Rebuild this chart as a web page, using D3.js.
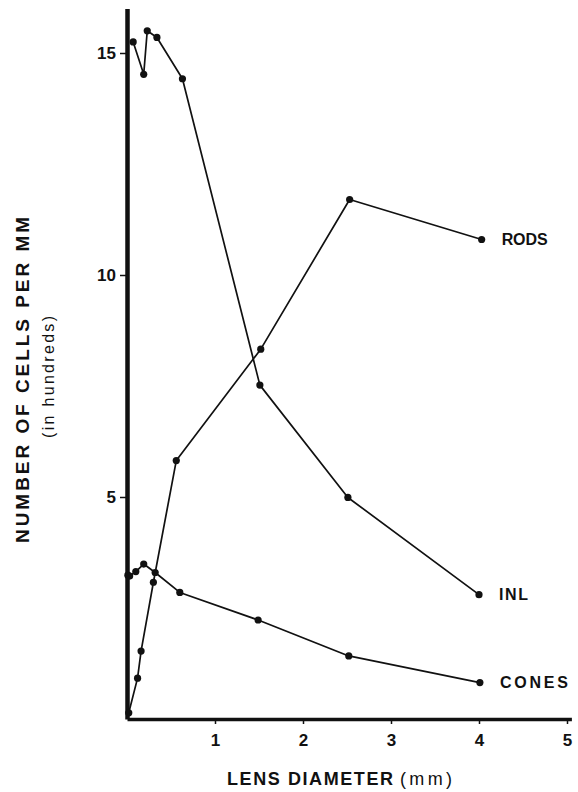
<!DOCTYPE html>
<html>
<head>
<meta charset="utf-8">
<script src="https://cdn.jsdelivr.net/npm/d3@7"></script>
<style>
  html, body { margin: 0; padding: 0; background: #fff; overflow: hidden; }
  svg { display: block; }
  text { font-family: "Liberation Sans", Arial, sans-serif; fill: #111; }
</style>
</head>
<body>
<svg id="svg"></svg>
<script>
/*global d3*/

const width = 578;
const height = 792;

// values (lens diameter in mm, cells per mm in hundreds)
const inlX = [0.07, 0.19, 0.23, 0.34, 0.63, 1.51, 2.51, 4.00];
const inlY = [15.25, 14.52, 15.50, 15.35, 14.42, 7.52, 4.99, 2.80];

const rodsX = [0.02, 0.12, 0.16, 0.30, 0.56, 1.52, 2.53, 4.03];
const rodsY = [0.14, 0.92, 1.53, 3.08, 5.82, 8.33, 11.70, 10.80];

const conesX = [0.01, 0.03, 0.10, 0.19, 0.32, 0.60, 1.49, 2.52, 4.01];
const conesY = [3.24, 3.22, 3.32, 3.49, 3.30, 2.85, 2.23, 1.42, 0.82];

const xTicks = [1, 2, 3, 4, 5];
const yTicks = [5, 10, 15];

const seriesNames = ["RODS", "INL", "CONES"];

const svg = d3.select("#svg").attr("width", width).attr("height", height);

const margin = {top: 10, left: 127, right: 6, bottom: 73};
const innerHeight = height - margin.top - margin.bottom;

const xScale = d3.scaleLinear()
    .domain([0, 5.05])
    .range([0, 5.05 * 88]);

const yScale = d3.scaleLinear()
    .domain([0, 16])
    .range([innerHeight, innerHeight - 16 * 44.4]);

const g = svg.append("g")
    .attr("transform", `translate(${margin.left},${margin.top})`);

// x axis
const xAxis = d3.axisBottom(xScale)
    .tickValues(xTicks)
    .tickSize(5)
    .tickSizeOuter(0)
    .tickFormat(d3.format("d"));

const xAxisG = g.append("g")
    .attr("transform", `translate(0,${innerHeight})`)
    .call(xAxis);

xAxisG.select(".domain").attr("stroke", "#111").attr("stroke-width", 3.5);
xAxisG.selectAll(".tick line").attr("stroke", "#111").attr("stroke-width", 1.5);
xAxisG.selectAll(".tick text")
    .attr("y", 15)
    .attr("dy", "0.71em")
    .style("font-size", "17px")
    .style("font-weight", "bold");

// y axis
const yAxis = d3.axisLeft(yScale)
    .tickValues(yTicks)
    .tickSize(7)
    .tickSizeOuter(0)
    .tickFormat(d3.format("d"));

const yAxisG = g.append("g").call(yAxis);

yAxisG.select(".domain").attr("stroke", "#111").attr("stroke-width", 4.5);
yAxisG.selectAll(".tick line").attr("stroke", "#111").attr("stroke-width", 1.5);
yAxisG.selectAll(".tick text")
    .attr("x", -11)
    .style("font-size", "17px")
    .style("font-weight", "bold");

// axis titles (spread out with textLength, like the wide lettering of the original)
svg.append("text")
    .attr("x", 227)
    .attr("y", 785)
    .attr("textLength", 166)
    .attr("lengthAdjust", "spacing")
    .style("font-size", "18px")
    .style("font-weight", "bold")
    .text("LENS DIAMETER");

svg.append("text")
    .attr("x", 400)
    .attr("y", 785)
    .attr("textLength", 52)
    .attr("lengthAdjust", "spacing")
    .style("font-size", "18px")
    .text("(mm)");

svg.append("text")
    .attr("transform", "translate(29,380) rotate(-90)")
    .attr("text-anchor", "middle")
    .attr("textLength", 326)
    .attr("lengthAdjust", "spacing")
    .style("font-size", "19px")
    .style("font-weight", "bold")
    .text("NUMBER OF CELLS PER MM");

svg.append("text")
    .attr("transform", "translate(54,377) rotate(-90)")
    .attr("text-anchor", "middle")
    .attr("textLength", 122)
    .attr("lengthAdjust", "spacing")
    .style("font-size", "16px")
    .text("(in hundreds)");

// series
const series = [
    {name: seriesNames[0], xs: rodsX, ys: rodsY, w: 46},
    {name: seriesNames[1], xs: inlX, ys: inlY, w: 29},
    {name: seriesNames[2], xs: conesX, ys: conesY, w: 68}
];

const line = d3.line()
    .x(d => xScale(d[0]))
    .y(d => yScale(d[1]));

series.forEach(s => {
    const pts = s.xs.map((x, i) => [x, s.ys[i]]);

    g.append("path")
        .datum(pts)
        .attr("fill", "none")
        .attr("stroke", "#111")
        .attr("stroke-width", 1.7)
        .attr("stroke-linejoin", "round")
        .attr("d", line);

    g.selectAll(null).data(pts)
        .enter().append("circle")
        .attr("cx", d => xScale(d[0]))
        .attr("cy", d => yScale(d[1]))
        .attr("r", 3.6)
        .attr("fill", "#111");

    const last = pts[pts.length - 1];
    g.append("text")
        .attr("x", xScale(last[0]) + 20)
        .attr("y", yScale(last[1]))
        .attr("dy", "0.36em")
        .attr("textLength", s.w)
        .attr("lengthAdjust", "spacing")
        .style("font-size", "16px")
        .style("font-weight", "bold")
        .text(s.name);
});
</script>
</body>
</html>
